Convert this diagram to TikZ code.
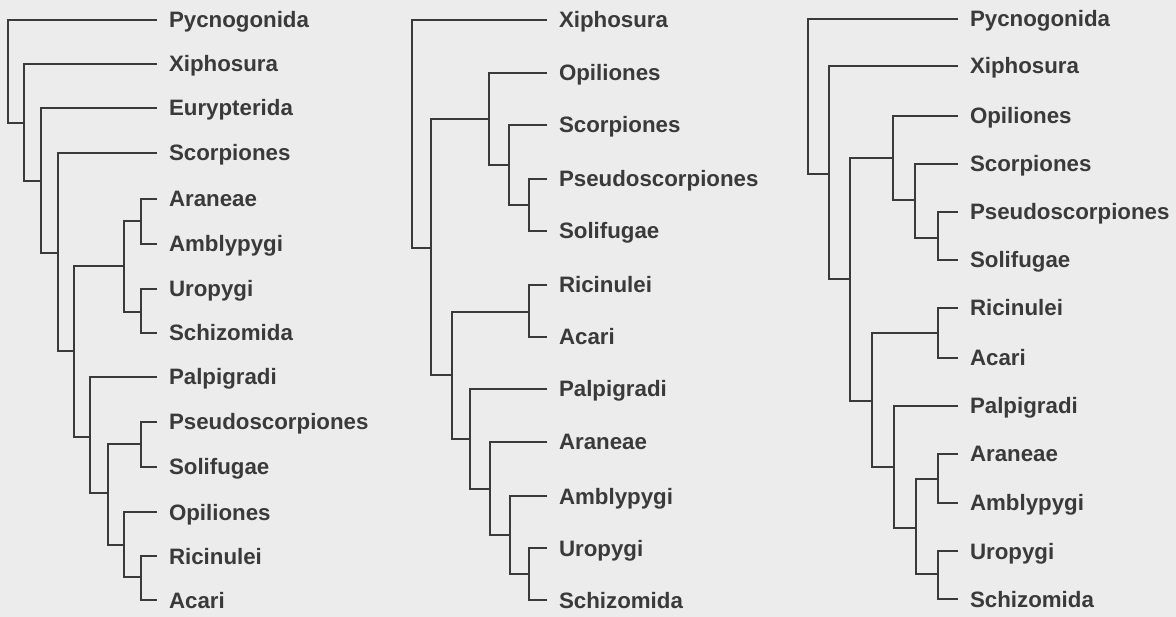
\documentclass[tikz,border=0pt]{standalone}
\usepackage{fontspec}
\setmainfont{Liberation Sans}
\usepackage{tikz}
\definecolor{paper}{RGB}{236,236,236}
\definecolor{ink}{RGB}{58,58,58}
\tikzstyle{taxon}=[anchor=west, inner sep=0pt, outer xsep=12pt, text height=16pt, text depth=0pt, text=ink, font=\bfseries\fontsize{22.3}{24}\selectfont]
\tikzstyle{branch}=[draw=ink, line width=2.1pt]
\newcommand{\taxon}{\node[taxon]}

\begin{document}
\begin{tikzpicture}[x=1pt,y=-1pt]
	\fill[paper] (0,0) rectangle (1176,617);
	\useasboundingbox (0,0) rectangle (1176,617);
	% first tree
	\taxon (a1) at (157,20) {Pycnogonida};
	\taxon (a2) at (157,64) {Xiphosura};
	\taxon (a3) at (157,108) {Eurypterida};
	\taxon (a4) at (157,153) {Scorpiones};
	\taxon (a5) at (157,199) {Araneae};
	\taxon (a6) at (157,244) {Amblypygi};
	\taxon (a7) at (157,289) {Uropygi};
	\taxon (a8) at (157,333) {Schizomida};
	\taxon (a9) at (157,377) {Palpigradi};
	\taxon (a10) at (157,422) {Pseudoscorpiones};
	\taxon (a11) at (157,467) {Solifugae};
	\taxon (a12) at (157,512) {Opiliones};
	\taxon (a13) at (157,556) {Ricinulei};
	\taxon (a14) at (157,600) {Acari};
	\coordinate (u1) at (8,70);
	\coordinate (u2) at (24,123);
	\coordinate (u3) at (41,181);
	\coordinate (u4) at (58,253);
	\coordinate (u5) at (74,351);
	\coordinate (u6) at (124,266);
	\coordinate (u7) at (141,221);
	\coordinate (u8) at (141,312);
	\coordinate (u9) at (90,437);
	\coordinate (u10) at (108,493);
	\coordinate (u11) at (141,444);
	\coordinate (u12) at (124,545);
	\coordinate (u13) at (141,577);
	% second tree
	\taxon (b1) at (547,20) {Xiphosura};
	\taxon (b2) at (547,73) {Opiliones};
	\taxon (b3) at (547,125) {Scorpiones};
	\taxon (b4) at (547,179) {Pseudoscorpiones};
	\taxon (b5) at (547,231) {Solifugae};
	\taxon (b6) at (547,285) {Ricinulei};
	\taxon (b7) at (547,337) {Acari};
	\taxon (b8) at (547,389) {Palpigradi};
	\taxon (b9) at (547,442) {Araneae};
	\taxon (b10) at (547,496) {Amblypygi};
	\taxon (b11) at (547,548) {Uropygi};
	\taxon (b12) at (547,600) {Schizomida};
	\coordinate (v1) at (412,130);
	\coordinate (v2) at (431,248);
	\coordinate (v3) at (489,119);
	\coordinate (v4) at (509,165);
	\coordinate (v5) at (529,205);
	\coordinate (v6) at (452,375);
	\coordinate (v7) at (529,312);
	\coordinate (v8) at (470,439);
	\coordinate (v9) at (490,489);
	\coordinate (v10) at (510,535);
	\coordinate (v11) at (529,574);
	% third tree
	\taxon (c1) at (958,19) {Pycnogonida};
	\taxon (c2) at (958,66) {Xiphosura};
	\taxon (c3) at (958,116) {Opiliones};
	\taxon (c4) at (958,164) {Scorpiones};
	\taxon (c5) at (958,212) {Pseudoscorpiones};
	\taxon (c6) at (958,260) {Solifugae};
	\taxon (c7) at (958,308) {Ricinulei};
	\taxon (c8) at (958,358) {Acari};
	\taxon (c9) at (958,406) {Palpigradi};
	\taxon (c10) at (958,454) {Araneae};
	\taxon (c11) at (958,503) {Amblypygi};
	\taxon (c12) at (958,551) {Uropygi};
	\taxon (c13) at (958,599) {Schizomida};
	\coordinate (w1) at (808,100);
	\coordinate (w2) at (829,174);
	\coordinate (w3) at (850,279);
	\coordinate (w4) at (893,158);
	\coordinate (w5) at (915,200);
	\coordinate (w6) at (938,238);
	\coordinate (w7) at (872,401);
	\coordinate (w8) at (938,333);
	\coordinate (w9) at (894,467);
	\coordinate (w10) at (916,528);
	\coordinate (w11) at (938,479);
	\coordinate (w12) at (938,574);

	\path[branch]
		(a1) -| (u1) |- (u2)
		(a2) -| (u2) |- (u3)
		(a3) -| (u3) |- (u4)
		(a4) -| (u4) |- (u5)
		(u6) -| (u5) |- (u9)
		(u7) -| (u6) |- (u8)
		(a5) -| (u7) |- (a6)
		(a7) -| (u8) |- (a8)
		(a9) -| (u9) |- (u10)
		(u11) -| (u10) |- (u12)
		(a10) -| (u11) |- (a11)
		(a12) -| (u12) |- (u13)
		(a13) -| (u13) |- (a14)

		(b1) -| (v1) |- (v2)
		(v3) -| (v2) |- (v6)
		(b2) -| (v3) |- (v4)
		(b3) -| (v4) |- (v5)
		(b4) -| (v5) |- (b5)
		(v7) -| (v6) |- (v8)
		(b6) -| (v7) |- (b7)
		(b8) -| (v8) |- (v9)
		(b9) -| (v9) |- (v10)
		(b10) -| (v10) |- (v11)
		(b11) -| (v11) |- (b12)

		(c1) -| (w1) |- (w2)
		(c2) -| (w2) |- (w3)
		(w4) -| (w3) |- (w7)
		(c3) -| (w4) |- (w5)
		(c4) -| (w5) |- (w6)
		(c5) -| (w6) |- (c6)
		(w8) -| (w7) |- (w9)
		(c7) -| (w8) |- (c8)
		(c9) -| (w9) |- (w10)
		(w11) -| (w10) |- (w12)
		(c10) -| (w11) |- (c11)
		(c12) -| (w12) |- (c13)
	;
\end{tikzpicture}
\end{document}
